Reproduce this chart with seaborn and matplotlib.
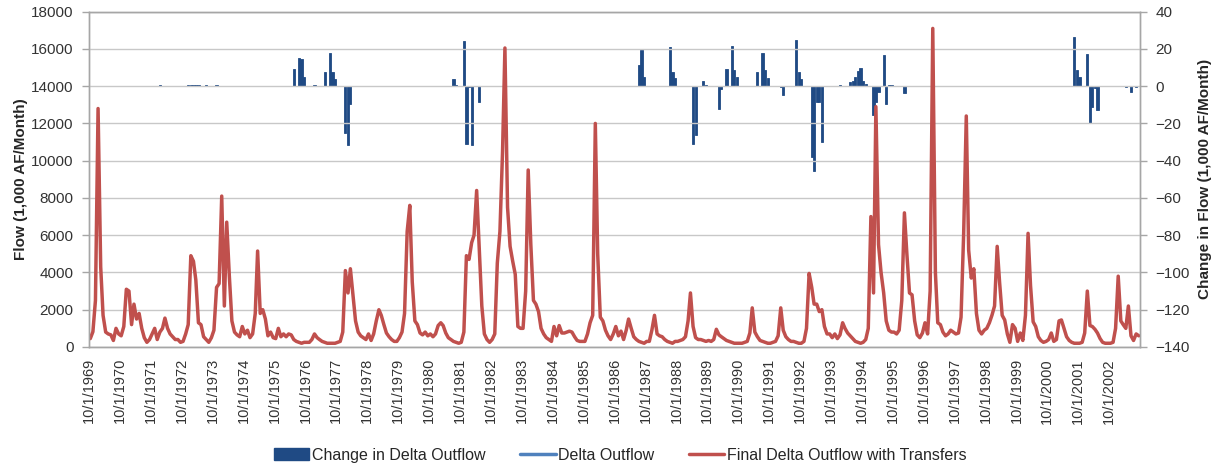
import numpy as np
import pandas as pd
import seaborn as sns
import matplotlib
matplotlib.use("Agg")
import matplotlib.pyplot as plt
from matplotlib.patches import Patch
from matplotlib.lines import Line2D

sns.set_style("white")
plt.rcParams['font.family'] = ['Liberation Sans', 'DejaVu Sans']

# monthly flows, 1,000 AF/month, water years Oct 1969 - Sep 2003
final_outflow = [
    450, 820, 2500, 12800, 4300, 1700, 800, 700, 650, 350, 1000, 700,        # WY1970
    600, 1100, 3100, 3000, 1200, 2300, 1500, 1800, 1000, 500, 250, 400,      # WY1971
    700, 1000, 400, 800, 1000, 1550, 1000, 700, 550, 400, 400, 250,          # WY1972
    300, 700, 1200, 4900, 4600, 3600, 1300, 1200, 550, 400, 250, 500,        # WY1973
    900, 3200, 3400, 8100, 2200, 6700, 3800, 1400, 800, 650, 550, 1100,      # WY1974
    700, 900, 500, 700, 1800, 5150, 1800, 2000, 1500, 600, 800, 500,         # WY1975
    450, 1000, 550, 700, 550, 700, 650, 400, 300, 250, 200, 250,             # WY1976
    250, 250, 400, 700, 500, 400, 300, 250, 200, 200, 200, 200,              # WY1977
    250, 300, 800, 4100, 2900, 4200, 2800, 1400, 800, 600, 500, 400,         # WY1978
    700, 350, 700, 1400, 2000, 1700, 1200, 750, 550, 400, 300, 300,          # WY1979
    500, 800, 1800, 6200, 7600, 3500, 1400, 1200, 750, 650, 800, 600,        # WY1980
    700, 550, 700, 1150, 1300, 1150, 750, 500, 400, 300, 250, 200,           # WY1981
    250, 800, 4900, 4700, 5600, 6000, 8400, 5400, 2200, 700, 400, 250,       # WY1982
    400, 700, 4500, 6200, 10500, 16050, 7500, 5400, 4600, 3900, 1100, 1000,  # WY1983
    1000, 3000, 9500, 5500, 2500, 2300, 1900, 1000, 700, 500, 400, 300,      # WY1984
    1100, 600, 1150, 750, 750, 800, 850, 800, 550, 350, 300, 300,            # WY1985
    300, 700, 1300, 1700, 12000, 5000, 1600, 1400, 900, 600, 400, 700,       # WY1986
    1100, 600, 850, 400, 900, 1500, 1000, 550, 400, 300, 250, 200,           # WY1987
    300, 300, 900, 1700, 700, 600, 550, 400, 300, 250, 200, 300,             # WY1988
    300, 350, 400, 550, 1400, 2900, 1100, 500, 400, 400, 350, 300,           # WY1989
    350, 300, 400, 950, 650, 550, 450, 350, 300, 250, 200, 200,              # WY1990
    200, 200, 250, 300, 750, 2100, 800, 550, 350, 300, 250, 200,             # WY1991
    200, 250, 300, 600, 2100, 900, 550, 400, 300, 300, 250, 200,             # WY1992
    200, 300, 1000, 3950, 3200, 2300, 2300, 1900, 2000, 1100, 700, 700,      # WY1993
    500, 700, 450, 650, 1300, 1000, 750, 600, 450, 300, 250, 200,            # WY1994
    250, 400, 1000, 7000, 2900, 12900, 5500, 4000, 2900, 1400, 900, 800,     # WY1995
    800, 700, 900, 2500, 7200, 5000, 2900, 2800, 1400, 650, 500, 750,        # WY1996
    1300, 700, 3000, 17100, 4000, 1300, 1200, 800, 600, 700, 900, 800,      # WY1997
    700, 750, 1600, 6100, 12400, 5200, 3700, 4200, 1800, 900, 700, 900,      # WY1998
    1000, 1300, 1700, 2200, 5400, 3500, 1700, 1450, 700, 250, 1200, 1000,    # WY1999
    300, 750, 350, 1700, 6100, 3300, 1350, 1100, 550, 350, 250, 300,         # WY2000
    400, 750, 300, 400, 1400, 1450, 1000, 550, 350, 250, 200, 200,           # WY2001
    200, 250, 750, 3000, 1150, 1100, 950, 750, 450, 250, 200, 200,           # WY2002
    200, 250, 1000, 3800, 1400, 1200, 1000, 2200, 600, 350, 700, 600,        # WY2003
]

# change in delta outflow, 1,000 AF/month (months not listed are zero)
change_months = [
    '1972-01', '1972-12', '1973-01', '1973-02', '1973-03', '1973-04', '1973-07',
    '1973-11', '1974-08', '1975-02',
    '1976-05', '1976-07', '1976-08', '1976-09', '1977-01', '1977-05', '1977-07',
    '1977-08', '1977-09', '1978-01', '1978-02', '1978-03', '1978-05',
    '1979-02', '1979-05', '1979-10', '1980-01', '1980-12',
    '1981-07', '1981-08', '1981-11', '1981-12', '1982-01', '1982-02', '1982-05',
    '1984-07', '1986-06', '1986-12', '1987-05', '1987-07', '1987-08', '1987-09',
    '1988-07', '1988-08', '1988-09', '1989-04', '1989-05', '1989-08', '1989-09',
    '1990-02', '1990-03', '1990-05', '1990-07', '1990-08', '1990-09',
    '1991-02', '1991-05', '1991-07', '1991-08', '1991-09',
    '1992-02', '1992-03', '1992-08', '1992-09', '1992-10',
    '1993-02', '1993-03', '1993-04', '1993-05', '1993-06',
    '1994-01', '1994-05', '1994-06', '1994-07', '1994-08', '1994-09', '1994-10',
    '1994-11', '1995-02', '1995-03', '1995-04', '1995-06', '1995-07', '1995-08',
    '1995-09', '1996-02', '1996-09', '1997-07',
    '1998-11', '1998-12', '1999-01', '1999-02', '1999-03', '1999-04', '1999-05',
    '1999-06', '2000-01', '2000-02', '2000-03', '2000-04', '2000-05', '2000-06',
    '2001-08', '2001-09', '2001-10', '2002-01', '2002-02', '2002-03', '2002-04',
    '2002-05', '2002-08', '2003-02', '2003-04', '2003-06', '2003-08',
]
change_values = [
    0.5, 0.4, 0.4, 0.5, 0.5, 0.4, 0.5,
    0.5, 0.3, 0.3,
    9, 15, 14.5, 5, 0.5, 7.7, 18,
    7.7, 4, -25, -31.7, -9.3, 0.3,
    0.3, 0.3, 0.3, 0.3, 0.3,
    4, 0.5, 24.3, -31, -0.5, -31.7, -8.4,
    0.3, 0.3, 0.3, 0.3, 11.3, 19.3, 5,
    21, 7.7, 4.6, -31, -26, 2.9, 0.5,
    -12, -1.5, 9, 21.7, 8.6, 5,
    0.3, 7.7, 18, 8.6, 4.6,
    -0.7, -4.8, 25, 7.7, 4,
    -38, -45.5, -8.4, -8.4, -30,
    0.5, 2, 3, 5, 8, 9.5, 3,
    1, -15.6, -8.4, -3, 17, -9.7, 0.5,
    0.5, -3.6, 0.3, 0.3,
    0.3, 0.3, 0.3, 0.3, 0.3, 0.3, 0.3,
    0.3, 0.3, 0.3, 0.3, 0.3, 0.3, 0.3,
    26.5, 8.6, 5, 17.5, -19.7, -11, -1,
    -12.9, 0.3, 0.3, -0.5, -3, -0.3,
]

label_years = list(range(1969, 2003))

months = pd.date_range('1969-10-01', periods=len(final_outflow), freq='MS')
mid = months + pd.Timedelta(days=15)
change = pd.Series(0.0, index=months)
change.loc[pd.to_datetime(change_months)] = change_values
df = pd.DataFrame({'date': mid,
                   'final': final_outflow,
                   'change': change.values})
df['delta'] = df['final'] - df['change']

red = '#c0504d'
blue_line = '#4f81bd'
bar_col = '#1f4a84'
grid_col = '#c8c8c8'
spine_col = '#a6a6a6'

fig = plt.figure(figsize=(12.21, 4.67), dpi=100)
ax = fig.add_axes([0.0729, 0.257, 0.8608, 0.718])
ax2 = ax.twinx()

# bars on right axis
ax2.bar(df['date'], df['change'], width=26, color=bar_col,
        edgecolor=bar_col, linewidth=0.6, zorder=2)
ax2.set_ylim(-140, 40)
ax2.set_yticks(range(-140, 41, 20))

# lines on left axis, drawn above the bars
ax.set_zorder(ax2.get_zorder() + 1)
ax.patch.set_visible(False)
sns.lineplot(data=df, x='date', y='delta', ax=ax, color=blue_line, lw=1.2)
sns.lineplot(data=df, x='date', y='final', ax=ax, color=red, lw=2.5)

ax.set_ylim(0, 18000)
ax.set_yticks(range(0, 18001, 2000))
ax.set_xlim(pd.Timestamp('1969-10-01'), pd.Timestamp('2003-10-01'))
ticks = [pd.Timestamp(f'{y}-10-01') for y in label_years + [2003]]
ax.set_xticks(ticks)
ax.set_xticklabels([f'10/1/{y}' for y in label_years] + [''], rotation=90)
ax.yaxis.grid(True, color=grid_col, lw=1)
ax.set_axisbelow(True)

ax.set_xlabel('')
ax.set_ylabel('Flow (1,000 AF/Month)', fontsize=11, fontweight='bold', labelpad=2)
ax2.set_ylabel('Change in Flow (1,000 AF/Month)', fontsize=11, fontweight='bold', labelpad=6)

for a in (ax, ax2):
    for s in a.spines.values():
        s.set_color(spine_col)
        s.set_linewidth(1)
    a.tick_params(axis='both', colors=spine_col, labelcolor='#333333',
                  labelsize=11, direction='out', length=5, width=1, pad=6)
ax.tick_params(axis='x', labelsize=10.5, length=5, pad=3)

handles = [Patch(color=bar_col),
           Line2D([], [], color=blue_line, lw=2.5),
           Line2D([], [], color=red, lw=2.5)]
labels = ['Change in Delta Outflow', 'Delta Outflow', 'Final Delta Outflow with Transfers']
fig.legend(handles, labels, loc='lower center', bbox_to_anchor=(0.508, -0.022),
           ncol=3, frameon=False, fontsize=11.5, handlelength=2.2,
           handleheight=0.8, columnspacing=2.2, handletextpad=0.15)

fig.savefig('out.png', dpi=100)
